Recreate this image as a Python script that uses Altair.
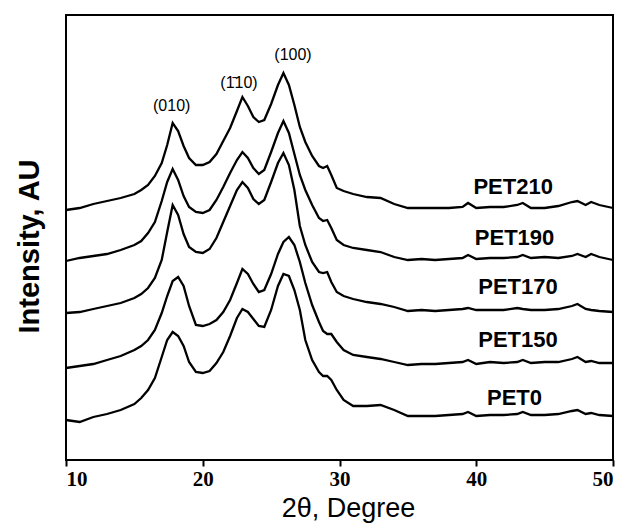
import altair as alt
import pandas as pd

# 2-theta grid (degrees) at which the traces were read
two_theta = [10, 11, 12, 13, 14, 15, 15.5, 16, 16.5, 17, 17.4, 17.8,
             18.2, 18.6, 19, 19.5, 20, 20.5, 21, 21.5, 22, 22.5, 22.9, 23.3,
             23.7, 24.1, 24.5, 25, 25.5, 25.9, 26.3, 26.7, 27.1, 27.5, 28, 28.5,
             28.8, 29.1, 29.4, 29.8, 30.3, 31, 32, 33, 34, 35, 36, 37,
             38, 39, 39.4, 40, 41, 42, 43, 43.4, 44, 45, 46, 47,
             47.4, 48, 48.4, 49, 50]

# Intensities (arbitrary units, stacked traces as drawn)
pet210 = [250, 252, 256, 259, 262, 266, 270, 275, 284, 297, 315, 337,
          329, 314, 302, 295, 295, 298, 306, 319, 332, 349, 363, 354,
          343, 338, 340, 356, 375, 387, 375, 355, 333, 318, 304, 294,
          292, 294, 285, 272, 269, 266, 263, 262, 256, 252, 252, 252,
          252, 253, 257, 252, 253, 253, 255, 257, 252, 252, 254, 258,
          259, 255, 258, 255, 252]
pet190 = [199, 202, 204, 206, 210, 215, 219, 227, 238, 259, 278, 291,
          280, 264, 253, 248, 247, 250, 260, 273, 287, 300, 308, 302,
          292, 286, 290, 308, 327, 339, 327, 306, 285, 270, 255, 242,
          239, 240, 232, 220, 215, 212, 210, 208, 203, 200, 201, 200,
          201, 202, 205, 201, 202, 202, 203, 205, 202, 203, 202, 204,
          206, 203, 206, 203, 200]
pet170 = [147, 148, 151, 154, 157, 162, 166, 172, 182, 200, 228, 255,
          245, 226, 213, 208, 207, 211, 222, 238, 254, 270, 278, 272,
          261, 256, 260, 278, 297, 307, 295, 270, 234, 215, 198, 188,
          187, 188, 178, 168, 164, 161, 158, 156, 153, 149, 150, 149,
          150, 151, 152, 150, 150, 150, 152, 151, 150, 150, 151, 154,
          156, 151, 150, 149, 148]
pet150 = [92, 94, 96, 100, 104, 110, 114, 120, 130, 147, 164, 179,
          183, 174, 154, 135, 134, 136, 140, 148, 160, 177, 191, 186,
          176, 168, 170, 186, 206, 218, 223, 215, 198, 177, 155, 138,
          129, 126, 126, 118, 110, 105, 103, 101, 98, 95, 96, 96,
          97, 98, 100, 96, 98, 97, 98, 100, 97, 98, 98, 101,
          103, 98, 99, 97, 97]
pet0 = [40, 38, 43, 46, 50, 56, 62, 70, 82, 103, 120, 128,
        124, 114, 98, 88, 87, 89, 97, 108, 124, 142, 151, 148,
        141, 134, 133, 150, 174, 186, 184, 170, 150, 120, 100, 88,
        84, 84, 80, 70, 60, 54, 54, 55, 50, 44, 44, 44,
        45, 46, 48, 44, 45, 45, 46, 48, 45, 45, 46, 49,
        50, 46, 47, 45, 44]

series_names = ["PET0", "PET150", "PET170", "PET190", "PET210"]
series_values = [pet0, pet150, pet170, pet190, pet210]

# Sample labels at the right
label_text = ["PET210", "PET190", "PET170", "PET150", "PET0"]
label_x = [42.7, 42.8, 43.05, 43.05, 42.8]
label_y = [273, 222, 173, 120, 62]

# Reflection labels
peak_text = ["(010)", "(1\u030410)", "(100)"]
peak_x = [17.73, 22.65, 26.6]
peak_y = [354, 377, 405]

rows = []
for name, vals in zip(series_names, series_values):
    for t, v in zip(two_theta, vals):
        rows.append({"two_theta": t, "intensity": v, "sample": name})
df = pd.DataFrame(rows)

labels_df = pd.DataFrame({"x": label_x, "y": label_y, "text": label_text})
peaks_df = pd.DataFrame({"x": peak_x, "y": peak_y, "text": peak_text})

x_scale = alt.Scale(domain=[10, 50], nice=False, zero=False)
y_scale = alt.Scale(domain=[0, 445], nice=False, zero=False)

lines = alt.Chart(df).mark_line(color="black", strokeWidth=2.3).encode(
    x=alt.X("two_theta:Q", scale=x_scale,
            axis=alt.Axis(title="2θ, Degree", values=[10, 20, 30, 40, 50],
                          format="d", grid=False, domain=False,
                          tickColor="black", tickWidth=2, tickSize=6,
                          labelFont="Liberation Serif", labelFontWeight="bold",
                          labelFontSize=21, labelColor="black", labelPadding=2,
                          titleFont="Liberation Sans", titleFontSize=27,
                          titleFontWeight="normal", titleColor="black",
                          titlePadding=6, titleX=282)),
    y=alt.Y("intensity:Q", scale=y_scale,
            axis=alt.Axis(title="Intensity, AU", labels=False, ticks=False,
                          domain=False, grid=False,
                          titleFont="Liberation Sans", titleFontSize=29,
                          titleFontWeight="bold", titleColor="black",
                          titlePadding=22, titleY=231)),
    detail="sample:N",
)

sample_labels = alt.Chart(labels_df).mark_text(
    font="Liberation Sans", fontSize=22, fontWeight="bold", color="black"
).encode(
    x=alt.X("x:Q", scale=x_scale),
    y=alt.Y("y:Q", scale=y_scale),
    text="text:N",
)

peak_labels = alt.Chart(peaks_df).mark_text(
    font="Liberation Sans", fontSize=16, color="black"
).encode(
    x=alt.X("x:Q", scale=x_scale),
    y=alt.Y("y:Q", scale=y_scale),
    text="text:N",
)

chart = alt.layer(lines, sample_labels, peak_labels).properties(
    width=547, height=445,
    padding={"left": 66, "top": 15, "right": 11, "bottom": 70},
    autosize=alt.AutoSizeParams(type="none"),
).configure_view(stroke="black", strokeWidth=2)

chart.save("out.html", embed_options={"renderer": "svg", "actions": False})
